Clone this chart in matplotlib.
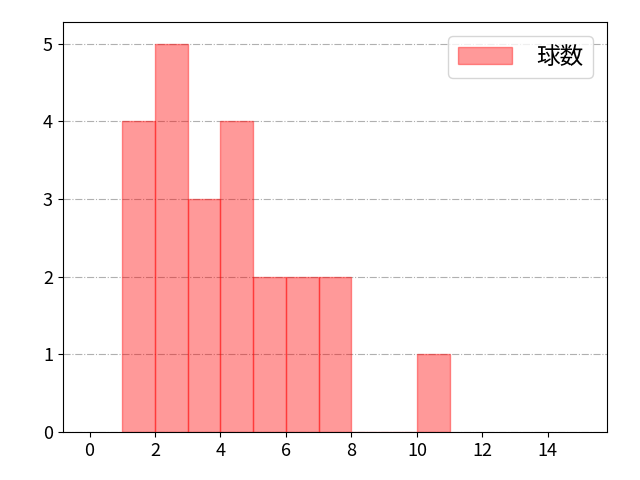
import matplotlib.pyplot as plt

plt.rcParams['font.family'] = ['Noto Sans CJK JP', 'DejaVu Sans']

bin_left = [1, 2, 3, 4, 5, 6, 7, 8, 9, 10]
counts = [4, 5, 3, 4, 2, 2, 2, 0, 0, 1]
xticks = [0, 2, 4, 6, 8, 10, 12, 14]

fig = plt.figure(figsize=(6.4, 4.8), dpi=100)
ax = fig.add_axes([0.098, 0.1, 0.85, 0.854])

ax.bar(bin_left, counts, width=1, align='edge',
       color='red', alpha=0.4, edgecolor='red', linewidth=1, label='球数')

ax.set_xlim(-0.82, 15.8)
ax.set_ylim(0, 5.28)
ax.set_xticks(xticks)
ax.set_yticks(range(6))
ax.tick_params(labelsize=13)
ax.grid(axis='y', linestyle='-.', color='#b0b0b0')
ax.set_axisbelow(True)
ax.legend(loc='upper right', fontsize=17, borderaxespad=0.6,
          handlelength=2.3, handletextpad=1.0)

fig.savefig('out.png')
